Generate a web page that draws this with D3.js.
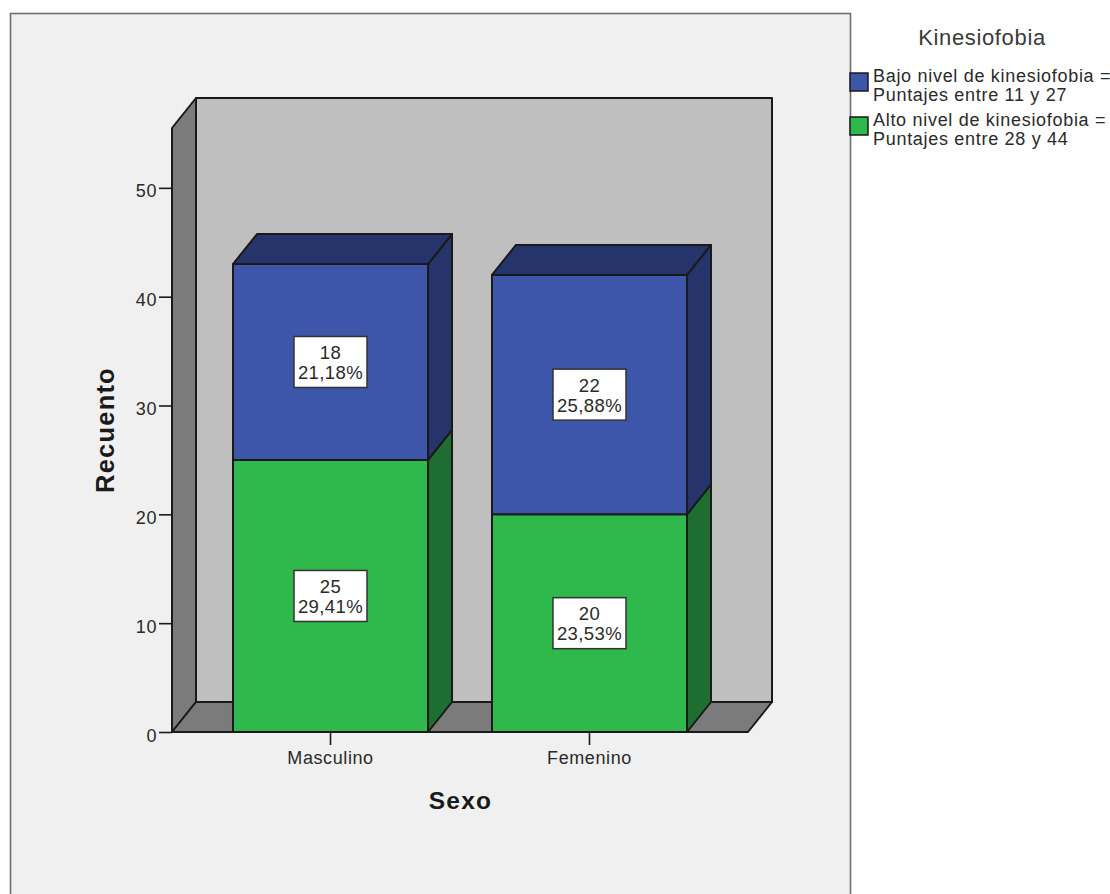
<!DOCTYPE html>
<html>
<head>
<meta charset="utf-8">
<script src="https://cdn.jsdelivr.net/npm/d3@7/dist/d3.min.js"></script>
<style>
  html, body { margin: 0; padding: 0; background: #fff; }
  svg { display: block; font-family: "Liberation Sans", Arial, sans-serif; }
</style>
</head>
<body>
<svg id="chart" width="1110" height="894"></svg>
<script>
// Kinesiofobia counts by sex, drawn as a stacked 3D-style bar chart
const categories = ["Masculino", "Femenino"];
const seriesKeys = ["alto", "bajo"];
const altoValues = [25, 20];
const bajoValues = [18, 22];
const altoPercent = ["29,41%", "23,53%"];
const bajoPercent = ["21,18%", "25,88%"];
const yTicks = [0, 10, 20, 30, 40, 50];
const legendTitle = "Kinesiofobia";
const legendBajo = ["Bajo nivel de kinesiofobia =", "Puntajes entre 11 y 27"];
const legendAlto = ["Alto nivel de kinesiofobia =", "Puntajes entre 28 y 44"];
const yAxisMax = 55.5;

const ink = "#1a1a1a";
const text = "#2a2a2a";
const palette = {
  bajo: { front: "#3d56a9", dark: "#25346a" },
  alto: { front: "#2fb84c", dark: "#1e6e31" }
};
const depth = { x: 24, y: -30 };
const labelFont = 18;
const labelSpacing = 0.6;

const svg = d3.select("#chart");

// Outer panel: the bottom edge runs past the page
svg.append("rect")
  .attr("x", 10.5).attr("y", 13.5)
  .attr("width", 840).attr("height", 900)
  .attr("fill", "#f0f0f0").attr("stroke", "#6e6e6e").attr("stroke-width", 1.6);

const x = d3.scaleBand().domain(categories).range([172, 748])
  .paddingInner(0.247).paddingOuter(0.2355);
const y = d3.scaleLinear().domain([0, yAxisMax]).range([732, 128]);

const rows = categories.map((c, i) => ({ cat: c, alto: altoValues[i], bajo: bajoValues[i], i }));
const stacked = d3.stack().keys(seriesKeys)(rows);

const poly = (pts, fill) => svg.append("polygon")
  .attr("points", pts.map(p => p.join(",")).join(" "))
  .attr("fill", fill).attr("stroke", ink).attr("stroke-width", 2)
  .attr("stroke-linejoin", "round");

// Chart box: back wall, left wall and floor
const [xL, xR] = x.range();
const y0 = y(0), yTop = y(yAxisMax);
poly([[xL + depth.x, yTop + depth.y], [xR + depth.x, yTop + depth.y],
      [xR + depth.x, y0 + depth.y], [xL + depth.x, y0 + depth.y]], "#bfbfbf");
poly([[xL, yTop], [xL + depth.x, yTop + depth.y],
      [xL + depth.x, y0 + depth.y], [xL, y0]], "#7b7b7b");
poly([[xL, y0], [xR, y0], [xR + depth.x, y0 + depth.y], [xL + depth.x, y0 + depth.y]], "#7b7b7b");

// Stacked bars, each segment with a front, a right side and a top face
stacked.forEach(layer => {
  const colors = palette[layer.key];
  layer.forEach(seg => {
    const bx = x(seg.data.cat), bw = x.bandwidth();
    const top = y(seg[1]), bottom = y(seg[0]);
    poly([[bx + bw, top], [bx + bw + depth.x, top + depth.y],
          [bx + bw + depth.x, bottom + depth.y], [bx + bw, bottom]], colors.dark);
    if (layer.key === seriesKeys[seriesKeys.length - 1]) {
      poly([[bx, top], [bx + depth.x, top + depth.y],
            [bx + bw + depth.x, top + depth.y], [bx + bw, top]], colors.dark);
    }
    poly([[bx, top], [bx + bw, top], [bx + bw, bottom], [bx, bottom]], colors.front);
  });
});

// Value labels in white boxes at the centre of each segment
const labelW = 73, labelH = 51;
stacked.forEach(layer => {
  const pct = layer.key === "alto" ? altoPercent : bajoPercent;
  layer.forEach((seg, i) => {
    const cx = x(seg.data.cat) + x.bandwidth() / 2;
    const cy = (y(seg[0]) + y(seg[1])) / 2;
    svg.append("rect")
      .attr("x", cx - labelW / 2).attr("y", cy - labelH / 2)
      .attr("width", labelW).attr("height", labelH)
      .attr("fill", "#fff").attr("stroke", "#333").attr("stroke-width", 1.5);
    const t = svg.append("text").attr("text-anchor", "middle")
      .attr("font-size", 18.5).attr("letter-spacing", 0.4).attr("fill", text);
    t.append("tspan").attr("x", cx).attr("y", cy - 3).text(seg[1] - seg[0]);
    t.append("tspan").attr("x", cx).attr("y", cy + 17).text(pct[i]);
  });
});

// Axes
const yAxis = svg.append("g").attr("transform", `translate(${xL},0)`)
  .call(d3.axisLeft(y).tickValues(yTicks).tickSize(13).tickPadding(2));
const xAxis = svg.append("g").attr("transform", `translate(0,${y0})`)
  .call(d3.axisBottom(x).tickSize(13).tickPadding(6.5));
[yAxis, xAxis].forEach(g => {
  g.select(".domain").remove();
  g.selectAll("line").attr("stroke", ink).attr("stroke-width", 1.6);
  g.selectAll("text").attr("font-family", "'Liberation Sans', Arial, sans-serif")
    .attr("font-size", labelFont).attr("letter-spacing", labelSpacing).attr("fill", text);
});
yAxis.selectAll("text").attr("dy", "0.5em");
svg.append("line").attr("x1", xL).attr("x2", xR).attr("y1", y0).attr("y2", y0)
  .attr("stroke", ink).attr("stroke-width", 2);

// Axis titles
svg.append("text").attr("x", 460.5).attr("y", 809).attr("text-anchor", "middle")
  .attr("font-size", 24.5).attr("font-weight", "bold").attr("letter-spacing", 1.2)
  .attr("fill", "#1a1a1a").text("Sexo");
svg.append("text").attr("transform", "translate(114,430) rotate(-90)")
  .attr("text-anchor", "middle").attr("font-size", 25.5).attr("font-weight", "bold")
  .attr("letter-spacing", 1.2).attr("fill", "#1a1a1a").text("Recuento");

// Legend
svg.append("text").attr("x", 982).attr("y", 45).attr("text-anchor", "middle")
  .attr("font-size", 22).attr("letter-spacing", 0.65).attr("fill", "#3a3a3a").text(legendTitle);
[[legendBajo, palette.bajo.front, 73], [legendAlto, palette.alto.front, 117]].forEach(([lines, col, top]) => {
  svg.append("rect").attr("x", 850).attr("y", top).attr("width", 18).attr("height", 18)
    .attr("fill", col).attr("stroke", ink).attr("stroke-width", 1.5);
  const entry = svg.append("text").attr("font-size", labelFont)
    .attr("letter-spacing", 0.7).attr("fill", text);
  lines.forEach((l, i) => entry.append("tspan").attr("x", 873).attr("y", top + 9 + i * 19).text(l));
});
</script>
</body>
</html>
